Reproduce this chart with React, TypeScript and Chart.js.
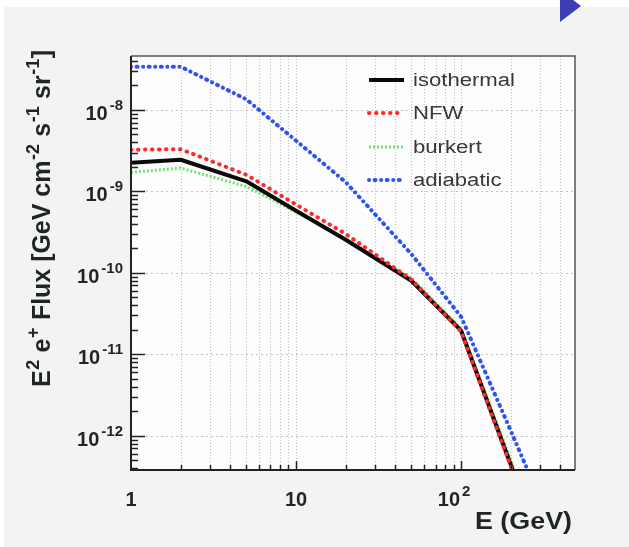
import React, { useEffect, useRef } from "react";
import { Chart, registerables } from "chart.js";

Chart.register(...registerables);

// ---- data ----
const energies = [1, 2, 5, 10, 20, 50, 100, 200, 300];
const isothermal = [2.25e-9, 2.45e-9, 1.33e-9, 5.8e-10, 2.55e-10, 8.0e-11, 1.95e-11, 4.4e-13, 4.8e-14];
const nfw = [3.25e-9, 3.3e-9, 1.6e-9, 6.9e-10, 3.0e-10, 8.3e-11, 1.9e-11, 4.2e-13, 4.5e-14];
const burkert = [1.71e-9, 1.94e-9, 1.15e-9, 5.6e-10, 2.6e-10, 8.6e-11, 2.05e-11, 5.0e-13, 5.5e-14];
const adiabatic = [3.4e-8, 3.4e-8, 1.35e-8, 4.2e-9, 1.3e-9, 1.7e-10, 2.9e-11, 1.15e-12, 1.7e-13];

const seriesNames = ["isothermal", "NFW", "burkert", "adiabatic"];

const xTickValues = [1, 10, 100];
const xTickBases = ["1", "10", "10"];
const xTickExps = ["", "", "2"];

const yTickValues = [1e-8, 1e-9, 1e-10, 1e-11, 1e-12];
const yTickExps = ["-8", "-9", "-10", "-11", "-12"];

const xMin = 1;
const xMax = 490;
const yMin = 3.8e-13;
const yMax = 4.6e-8;

const xTitle = "E (GeV)";
const yTitleParts: [string, boolean][] = [
  ["E", false],
  ["2", true],
  [" e", false],
  ["+", true],
  [" Flux [GeV cm", false],
  ["-2", true],
  [" s", false],
  ["-1", true],
  [" sr", false],
  ["-1", true],
  ["]", false],
];

const FONT = '"Liberation Sans", Arial, Helvetica, sans-serif';
const TEXT = "#1f261f";

type Style = { color: string; width: number; dash: number[]; cap: CanvasLineCap };
const styles: Style[] = [
  { color: "#0a0a0a", width: 4, dash: [], cap: "butt" },
  { color: "#ff2a2a", width: 4, dash: [0.5, 6.5], cap: "round" },
  { color: "#6fe26f", width: 3, dash: [2, 2], cap: "butt" },
  { color: "#2f55ee", width: 4, dash: [0.1, 5.5, 1, 5.5], cap: "round" },
];

function drawSup(
  ctx: CanvasRenderingContext2D,
  base: string,
  exp: string,
  x: number,
  y: number,
  align: "left" | "right" | "center",
  size: number,
  supSize: number
) {
  ctx.font = `bold ${size}px ${FONT}`;
  const wb = ctx.measureText(base).width;
  ctx.font = `bold ${supSize}px ${FONT}`;
  const gap = 2;
  const we = exp ? ctx.measureText(exp).width + gap : 0;
  const total = wb + we;
  let x0 = x;
  if (align === "right") x0 = x - total;
  else if (align === "center") x0 = x - total / 2;
  ctx.textAlign = "left";
  ctx.textBaseline = "alphabetic";
  ctx.font = `bold ${size}px ${FONT}`;
  ctx.fillText(base, x0, y);
  if (exp) {
    ctx.font = `bold ${supSize}px ${FONT}`;
    ctx.fillText(exp, x0 + wb + gap, y - size * 0.5);
  }
}

const decor = {
  id: "decor",
  beforeDraw(chart: any) {
    const ctx: CanvasRenderingContext2D = chart.ctx;
    const { width, height } = chart;
    const a = chart.chartArea;
    const xs = chart.scales.x;
    const ys = chart.scales.y;
    ctx.save();
    ctx.fillStyle = "#ffffff";
    ctx.fillRect(0, 0, width, height);
    ctx.fillStyle = "#f3f3f3";
    ctx.fillRect(4, 7, width - 4, height - 7);
    // navigation triangle
    ctx.fillStyle = "#3d3db5";
    ctx.beginPath();
    ctx.moveTo(560, -10);
    ctx.lineTo(581, 6);
    ctx.lineTo(560, 22);
    ctx.closePath();
    ctx.fill();
    // plot area
    ctx.fillStyle = "#fdfdfd";
    ctx.fillRect(a.left, a.top, a.right - a.left, a.bottom - a.top);
    // vertical grid
    ctx.lineWidth = 1;
    ctx.strokeStyle = "rgba(140,140,140,0.55)";
    ctx.setLineDash([1, 2]);
    for (let d = 1; d <= 1000; d *= 10) {
      for (let k = 1; k <= 9; k++) {
        const v = k * d;
        if (v <= xMin || v >= xMax) continue;
        const px = Math.round(xs.getPixelForValue(v)) + 0.5;
        ctx.beginPath();
        ctx.moveTo(px, a.top);
        ctx.lineTo(px, a.bottom);
        ctx.stroke();
      }
    }
    // horizontal grid (decades)
    ctx.strokeStyle = "rgba(170,150,150,0.6)";
    ctx.setLineDash([2, 3]);
    for (const v of yTickValues) {
      const py = Math.round(ys.getPixelForValue(v)) + 0.5;
      ctx.beginPath();
      ctx.moveTo(a.left, py);
      ctx.lineTo(a.right, py);
      ctx.stroke();
    }
    ctx.restore();
  },
  afterDatasetsDraw(chart: any) {
    const ctx: CanvasRenderingContext2D = chart.ctx;
    const a = chart.chartArea;
    const xs = chart.scales.x;
    const ys = chart.scales.y;
    ctx.save();
    ctx.setLineDash([]);
    // frame
    ctx.strokeStyle = "#555";
    ctx.lineWidth = 1.5;
    ctx.beginPath();
    ctx.moveTo(a.left, a.top);
    ctx.lineTo(a.right, a.top);
    ctx.lineTo(a.right, a.bottom);
    ctx.stroke();
    ctx.strokeStyle = "#222";
    ctx.lineWidth = 2;
    ctx.beginPath();
    ctx.moveTo(a.left, a.top);
    ctx.lineTo(a.left, a.bottom);
    ctx.lineTo(a.right, a.bottom);
    ctx.stroke();
    // y ticks
    ctx.lineWidth = 1.5;
    for (let d = 1e-13; d <= 1e-7; d *= 10) {
      for (let k = 1; k <= 9; k++) {
        const v = k * d;
        if (v < yMin || v > yMax) continue;
        const py = Math.round(ys.getPixelForValue(v)) + 0.5;
        const len = k === 1 ? 14 : 7;
        ctx.beginPath();
        ctx.moveTo(a.left, py);
        ctx.lineTo(a.left + len, py);
        ctx.stroke();
      }
    }
    // x ticks
    for (let d = 1; d <= 1000; d *= 10) {
      for (let k = 1; k <= 9; k++) {
        const v = k * d;
        if (v <= xMin || v >= xMax) continue;
        const px = Math.round(xs.getPixelForValue(v)) + 0.5;
        const len = k === 1 ? 9 : 5;
        ctx.beginPath();
        ctx.moveTo(px, a.bottom);
        ctx.lineTo(px, a.bottom - len);
        ctx.stroke();
      }
    }
    // tick labels
    ctx.fillStyle = TEXT;
    yTickValues.forEach((v, i) => {
      const py = ys.getPixelForValue(v);
      drawSup(ctx, "10", yTickExps[i], 123, py + 10, "right", 20, 15);
    });
    xTickValues.forEach((v, i) => {
      const px = xs.getPixelForValue(v);
      const shift = xTickExps[i] ? -7 : 0;
      drawSup(ctx, xTickBases[i], xTickExps[i], px + shift, a.bottom + 36, "center", 20, 15);
    });
    // x title
    ctx.font = `bold 23px ${FONT}`;
    const wx = ctx.measureText(xTitle).width;
    ctx.save();
    ctx.translate(572 - 97, 529);
    ctx.scale(97 / wx, 1);
    ctx.textAlign = "left";
    ctx.textBaseline = "alphabetic";
    ctx.fillText(xTitle, 0, 0);
    ctx.restore();
    // y title (rotated)
    {
      const size = 25;
      const sup = 18;
      let total = 0;
      const widths: number[] = [];
      for (const [t, s] of yTitleParts) {
        ctx.font = `bold ${s ? sup : size}px ${FONT}`;
        const w = ctx.measureText(t).width + (s ? 1 : 0);
        widths.push(w);
        total += w;
      }
      const target = 337;
      ctx.save();
      ctx.translate(50, 387);
      ctx.rotate(-Math.PI / 2);
      ctx.scale(target / total, 1);
      ctx.textAlign = "left";
      ctx.textBaseline = "alphabetic";
      let x = 0;
      yTitleParts.forEach(([t, s], i) => {
        ctx.font = `bold ${s ? sup : size}px ${FONT}`;
        ctx.fillText(t, x + (s ? 0.5 : 0), s ? -size * 0.45 : 0);
        x += widths[i];
      });
      ctx.restore();
    }
    // legend
    const rows = [80, 113, 147, 180];
    ctx.font = `18px ${FONT}`;
    const wIso = ctx.measureText(seriesNames[0]).width;
    const stretch = 102 / wIso;
    seriesNames.forEach((name, i) => {
      const st = styles[i];
      const y = rows[i];
      ctx.save();
      ctx.strokeStyle = st.color;
      ctx.lineWidth = st.width;
      ctx.lineCap = st.cap;
      ctx.setLineDash(st.dash);
      ctx.beginPath();
      ctx.moveTo(369, y);
      ctx.lineTo(404, y);
      ctx.stroke();
      ctx.restore();
      ctx.save();
      ctx.fillStyle = "#383838";
      ctx.font = `18px ${FONT}`;
      ctx.translate(413, y + 6);
      ctx.scale(stretch, 1);
      ctx.textAlign = "left";
      ctx.textBaseline = "alphabetic";
      ctx.fillText(name, 0, 0);
      ctx.restore();
    });
    ctx.restore();
  },
};

export default function App() {
  const ref = useRef<HTMLCanvasElement | null>(null);
  useEffect(() => {
    if (!ref.current) return;
    const all = [isothermal, nfw, burkert, adiabatic];
    const orders = [2, 1, 3, 0];
    const datasets = all.map((vals, i) => ({
      label: seriesNames[i],
      data: energies.map((e, j) => ({ x: e, y: vals[j] })),
      borderColor: styles[i].color,
      backgroundColor: styles[i].color,
      borderWidth: styles[i].width,
      borderDash: styles[i].dash,
      borderCapStyle: styles[i].cap,
      borderJoinStyle: "round" as CanvasLineJoin,
      pointRadius: 0,
      tension: 0,
      fill: false,
      order: orders[i],
    }));
    const chart = new Chart(ref.current, {
      type: "line",
      data: { datasets },
      options: {
        responsive: false,
        animation: false,
        devicePixelRatio: 1,
        layout: { padding: { left: 131, top: 56, right: 54, bottom: 77 } },
        plugins: { legend: { display: false }, tooltip: { enabled: false } },
        scales: {
          x: { type: "logarithmic", min: xMin, max: xMax, display: false },
          y: { type: "logarithmic", min: yMin, max: yMax, display: false },
        },
      },
      plugins: [decor],
    });
    return () => chart.destroy();
  }, []);
  return (
    <div style={{ position: "fixed", left: 0, top: 0, width: 629, height: 547 }}>
      <canvas ref={ref} width={629} height={547} style={{ display: "block" }} />
    </div>
  );
}
